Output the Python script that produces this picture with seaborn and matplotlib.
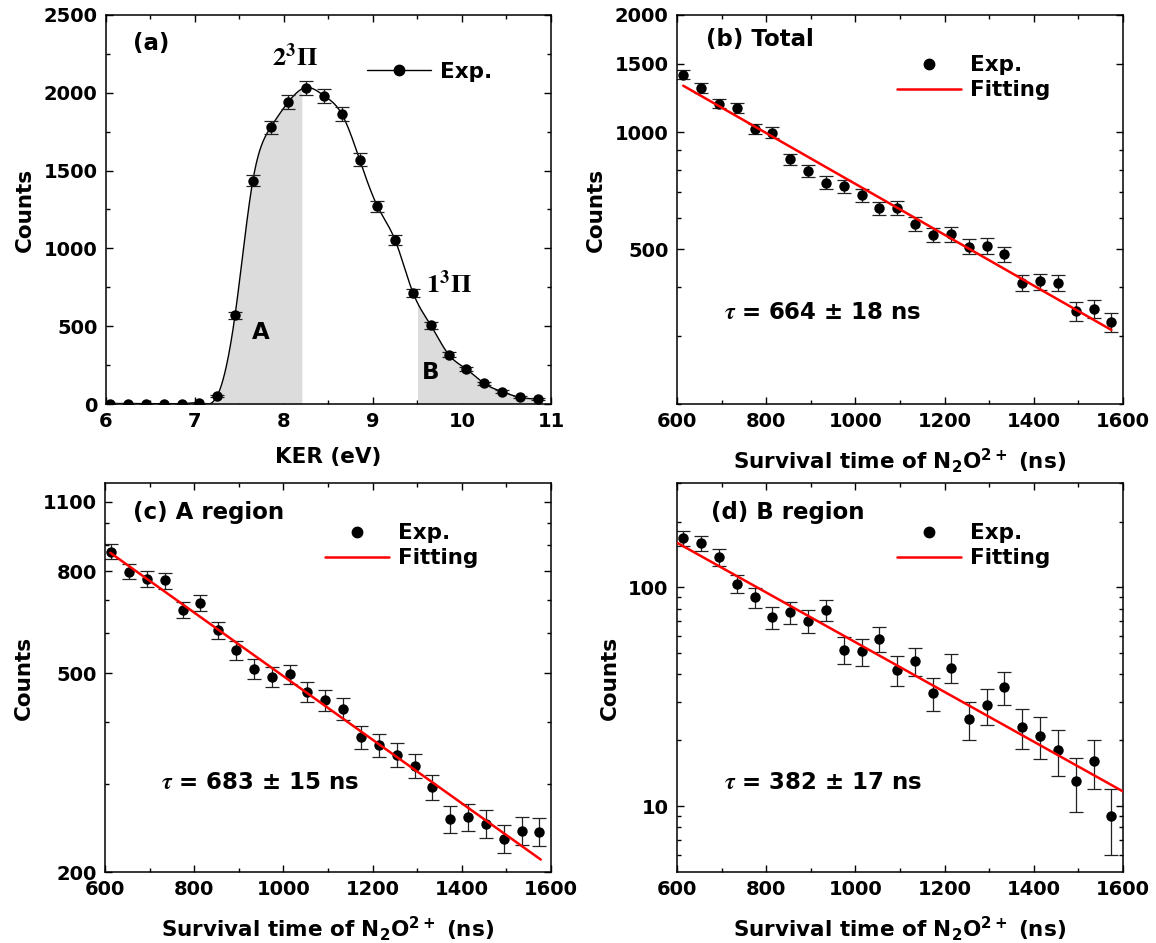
import numpy as np
import matplotlib
matplotlib.use("Agg")
import matplotlib.pyplot as plt
import seaborn as sns
from matplotlib.lines import Line2D
from matplotlib.ticker import FixedLocator, FixedFormatter, NullFormatter, MultipleLocator

# ---------------- data ----------------
# (a) kinetic energy release spectrum
ker_ev = [6.05, 6.25, 6.45, 6.65, 6.85, 7.05, 7.25, 7.45, 7.65, 7.85, 8.05, 8.25, 8.45,
          8.65, 8.85, 9.05, 9.25, 9.45, 9.65, 9.85, 10.05, 10.25, 10.45, 10.65, 10.85]
ker_counts = [3, 3, 2, 2, 2, 5, 53, 570, 1436, 1778, 1942, 2034, 1981,
              1863, 1570, 1271, 1051, 714, 506, 318, 224, 132, 79, 43, 32]
ker_err = [2, 2, 1, 1, 1, 2, 7, 24, 38, 42, 44, 45, 45,
           43, 40, 36, 32, 27, 22, 18, 15, 11, 9, 7, 6]
region_a = (7.0, 8.2)
region_b = (9.5, 11.0)

# (b)-(d) survival time decay curves
survival_time = [614, 654, 694, 734, 774, 814, 854, 894, 934, 974, 1014, 1054, 1094,
                 1134, 1174, 1214, 1254, 1294, 1334, 1374, 1414, 1454, 1494, 1534, 1574]
counts_total = [1404, 1300, 1184, 1154, 1020, 996, 851, 793, 742, 725, 689, 637, 639,
                581, 544, 546, 508, 510, 486, 410, 413, 410, 346, 351, 324]
err_total = [37, 36, 34, 34, 32, 32, 29, 28, 27, 27, 26, 25, 25,
             24, 23, 23, 23, 23, 22, 20, 20, 20, 19, 19, 18]
counts_a = [874, 798, 772, 766, 669, 690, 609, 555, 510, 491, 498, 458, 441,
            424, 372, 359, 343, 326, 296, 255, 258, 250, 233, 242, 241]
err_a = [30, 28, 28, 28, 26, 26, 25, 24, 23, 22, 22, 21, 21,
         21, 19, 19, 19, 18, 17, 16, 16, 16, 15, 16, 16]
counts_b = [168, 159, 137, 104, 90, 73, 77, 70, 79, 52, 51, 58, 42,
            46, 33, 43, 25, 29, 35, 23, 21, 18, 13, 16, 9]
err_b = [13, 13, 12, 10, 9.5, 8.5, 8.8, 8.4, 8.9, 7.2, 7.1, 7.6, 6.5,
         6.8, 5.7, 6.6, 5.0, 5.4, 5.9, 4.8, 4.6, 4.2, 3.6, 4.0, 3.0]

# exponential fits: lifetime (ns), start/end time, value at start
tau_total, fit_total_t, fit_total_amp = 664, (614, 1574), 1316
tau_a, fit_a_t, fit_a_amp = 683, (612, 1577), 870
tau_b, fit_b_t, fit_b_amp = 382, (600, 1600), 160

# ---------------- style ----------------
sns.set_theme(style="ticks")
plt.rcParams.update({
    "font.family": ["DejaVu Sans"],
    "font.weight": "bold",
    "axes.labelweight": "bold",
    "text.color": "black",
    "axes.labelcolor": "black",
    "mathtext.fontset": "custom",
    "mathtext.rm": "DejaVu Sans:bold",
    "mathtext.it": "DejaVu Sans:bold",
    "mathtext.bf": "DejaVu Sans:bold",
    "axes.linewidth": 1.1,
    "axes.edgecolor": "black",
    "xtick.color": "black",
    "ytick.color": "black",
    "xtick.labelcolor": "black",
    "ytick.labelcolor": "black",
})

TICK_FS = 14
LABEL_FS = 15.5
NOTE_FS = 16.5
LEG_FS = 15.5
MS = 7.5
XPAD = 11


def natural_spline(x, y, xq):
    """Natural cubic spline through the points, evaluated at xq."""
    x = np.asarray(x, float)
    y = np.asarray(y, float)
    n = len(x)
    h = np.diff(x)
    A = np.zeros((n, n))
    rhs = np.zeros(n)
    A[0, 0] = A[-1, -1] = 1.0
    for i in range(1, n - 1):
        A[i, i - 1] = h[i - 1]
        A[i, i] = 2 * (h[i - 1] + h[i])
        A[i, i + 1] = h[i]
        rhs[i] = 3 * ((y[i + 1] - y[i]) / h[i] - (y[i] - y[i - 1]) / h[i - 1])
    c = np.linalg.solve(A, rhs)
    b = (y[1:] - y[:-1]) / h - h * (2 * c[:-1] + c[1:]) / 3
    d = (c[1:] - c[:-1]) / (3 * h)
    idx = np.clip(np.searchsorted(x, xq) - 1, 0, n - 2)
    dx = xq - x[idx]
    return y[idx] + b[idx] * dx + c[idx] * dx**2 + d[idx] * dx**3


def style_axes(ax):
    for s in ax.spines.values():
        s.set_visible(True)
        s.set_linewidth(1.1)
        s.set_color("black")
    ax.tick_params(which="both", direction="in", top=True, right=True,
                   labelsize=TICK_FS, width=1.0, colors="black")
    ax.tick_params(which="major", length=5, pad=6)
    ax.tick_params(which="minor", length=3)
    for lab in ax.get_xticklabels() + ax.get_yticklabels():
        lab.set_fontweight("bold")
    ax.grid(False)


def decay_panel(ax, counts, err, tau, fit_t, fit_amp, title, tau_text,
                ylim, majors, minors):
    ax.errorbar(survival_time, counts, yerr=err, fmt="none", ecolor="#222222",
                elinewidth=0.9, capsize=5, capthick=0.9, zorder=2)
    sns.scatterplot(x=survival_time, y=counts, ax=ax, color="black", s=MS**2,
                    linewidth=0, zorder=3, legend=False)
    tf = np.linspace(fit_t[0], fit_t[1], 60)
    sns.lineplot(x=tf, y=fit_amp * np.exp(-(tf - fit_t[0]) / tau), ax=ax,
                 color="red", lw=1.8, zorder=4, legend=False)
    ax.set_yscale("log")
    ax.set_xlim(600, 1600)
    ax.set_ylim(*ylim)
    ax.xaxis.set_major_locator(MultipleLocator(200))
    ax.xaxis.set_minor_locator(MultipleLocator(100))
    ax.yaxis.set_major_locator(FixedLocator(majors))
    ax.yaxis.set_major_formatter(FixedFormatter([str(m) for m in majors]))
    ax.yaxis.set_minor_locator(FixedLocator(minors))
    ax.yaxis.set_minor_formatter(NullFormatter())
    ax.set_xlabel(r"Survival time of N$_{2}$O$^{2+}$ (ns)", fontsize=LABEL_FS,
                  fontweight="bold", labelpad=XPAD)
    ax.set_ylabel("Counts", fontsize=LABEL_FS, fontweight="bold", labelpad=6)
    style_axes(ax)
    ax.text(title[1], title[2], title[0], transform=ax.transAxes, fontsize=NOTE_FS,
            fontweight="bold", ha="left", va="center")
    ax.text(tau_text[1], tau_text[2], tau_text[0], transform=ax.transAxes,
            fontsize=NOTE_FS, fontweight="bold", ha="left", va="center",
            math_fontfamily="stix")
    handles = [
        Line2D([], [], ls="none", marker="o", color="black", markersize=MS, label="Exp."),
        Line2D([], [], color="red", lw=1.8, label="Fitting"),
    ]
    ax.legend(handles=handles, loc="upper left", bbox_to_anchor=(0.493, 0.897),
              frameon=False, borderpad=0, borderaxespad=0, handlelength=3.0,
              handletextpad=0.4, labelspacing=0.25,
              prop={"weight": "bold", "size": LEG_FS})


fig = plt.figure(figsize=(11.56, 9.43), dpi=100)
W, H = 1156, 943


def box(l, t, r, b):
    return [l / W, 1 - b / H, (r - l) / W, (b - t) / H]


ax_a = fig.add_axes(box(106, 15, 551, 404))
ax_b = fig.add_axes(box(677, 15, 1123, 404))
ax_c = fig.add_axes(box(105, 483, 551, 872))
ax_d = fig.add_axes(box(677, 483, 1123, 872))

# ---------------- (a) KER spectrum ----------------
xq = np.linspace(ker_ev[0], ker_ev[-1], 800)
yq = np.clip(natural_spline(ker_ev, ker_counts, xq), 0, None)
for lo, hi in (region_a, region_b):
    xs = np.linspace(max(lo, ker_ev[0]), min(hi, ker_ev[-1]), 300)
    ax_a.fill_between(xs, 0, np.clip(natural_spline(ker_ev, ker_counts, xs), 0, None),
                      color="#dcdcdc", lw=0, zorder=1)
sns.lineplot(x=xq, y=yq, ax=ax_a, color="black", lw=1.0, zorder=2, legend=False)
ax_a.errorbar(ker_ev, ker_counts, yerr=ker_err, fmt="none", ecolor="#222222",
              elinewidth=0.9, capsize=5, capthick=0.9, zorder=3)
sns.scatterplot(x=ker_ev, y=ker_counts, ax=ax_a, color="black", s=MS**2,
                linewidth=0, zorder=4, legend=False)
ax_a.set_xlim(6, 11)
ax_a.set_ylim(0, 2500)
ax_a.xaxis.set_major_locator(MultipleLocator(1))
ax_a.xaxis.set_minor_locator(MultipleLocator(0.5))
ax_a.yaxis.set_major_locator(MultipleLocator(500))
ax_a.yaxis.set_minor_locator(MultipleLocator(250))
ax_a.set_xlabel("KER (eV)", fontsize=LABEL_FS, fontweight="bold", labelpad=XPAD)
ax_a.set_ylabel("Counts", fontsize=LABEL_FS, fontweight="bold", labelpad=6)
style_axes(ax_a)
ax_a.text(0.061, 0.928, "(a)", transform=ax_a.transAxes, fontsize=NOTE_FS,
          fontweight="bold", ha="left", va="center")
ax_a.text(0.373, 0.889, r"$\mathbf{2}^{\mathbf{3}}\Pi$", transform=ax_a.transAxes,
          fontsize=19, ha="left", va="center", math_fontfamily="stix")
ax_a.text(0.719, 0.306, r"$\mathbf{1}^{\mathbf{3}}\Pi$", transform=ax_a.transAxes,
          fontsize=19, ha="left", va="center", math_fontfamily="stix")
ax_a.text(0.348, 0.183, "A", transform=ax_a.transAxes, fontsize=NOTE_FS,
          fontweight="bold", ha="center", va="center")
ax_a.text(0.730, 0.080, "B", transform=ax_a.transAxes, fontsize=NOTE_FS,
          fontweight="bold", ha="center", va="center")
ax_a.legend(handles=[Line2D([], [], color="black", lw=1.0, marker="o",
                            markersize=MS, label="Exp.")],
            loc="upper left", bbox_to_anchor=(0.586, 0.880), frameon=False,
            borderpad=0, borderaxespad=0, handlelength=3.0, handletextpad=0.4,
            prop={"weight": "bold", "size": LEG_FS})

# ---------------- (b)-(d) decay curves ----------------
decay_panel(ax_b, counts_total, err_total, tau_total, fit_total_t, fit_total_amp,
            ("(b) Total", 0.065, 0.938),
            (r"$\tau$ = 664 ± 18 ns", 0.105, 0.234),
            (200, 2000), [500, 1000, 1500, 2000],
            [200, 300, 400, 600, 700, 800, 900])
decay_panel(ax_c, counts_a, err_a, tau_a, fit_a_t, fit_a_amp,
            ("(c) A region", 0.063, 0.923),
            (r"$\tau$ = 683 ± 15 ns", 0.126, 0.229),
            (200, 1200), [200, 500, 800, 1100],
            [300, 400, 600, 700, 900, 1000])
decay_panel(ax_d, counts_b, err_b, tau_b, fit_b_t, fit_b_amp,
            ("(d) B region", 0.076, 0.923),
            (r"$\tau$ = 382 ± 17 ns", 0.105, 0.229),
            (5, 300), [10, 100],
            [6, 7, 8, 9, 20, 30, 40, 50, 60, 70, 80, 90, 200, 300])

fig.savefig("out.png", dpi=100)
